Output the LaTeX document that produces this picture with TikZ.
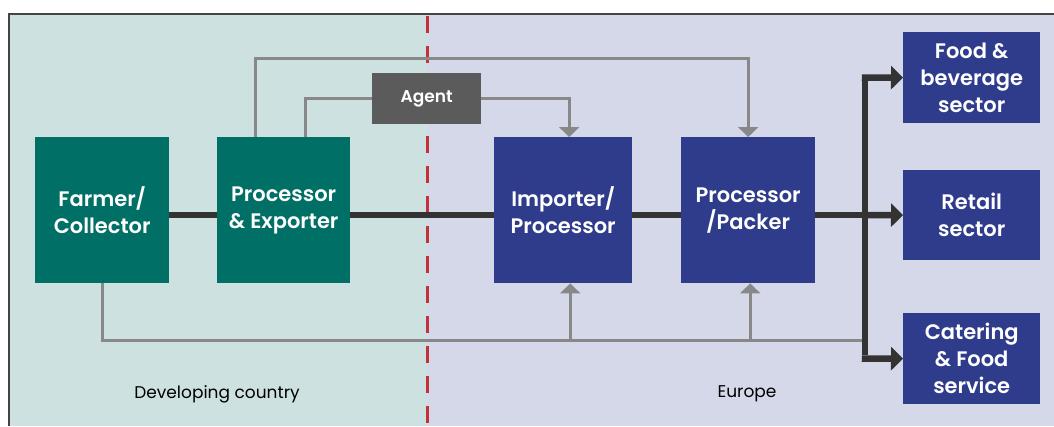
\documentclass[tikz,border=0pt]{standalone}
\usepackage{fontspec}
\setmainfont{Poppins}[BoldFont={* SemiBold}]
\usetikzlibrary{arrows.meta}
\definecolor{bggreen}{HTML}{CDE2E0}
\definecolor{bglav}{HTML}{D5D8E8}
\definecolor{teal}{HTML}{006F66}
\definecolor{navy}{HTML}{2F3C8C}
\definecolor{agentgrey}{HTML}{5B5B5B}
\definecolor{lgrey}{HTML}{888888}
\definecolor{dgrey}{HTML}{333333}
\definecolor{dred}{HTML}{C2323B}
\definecolor{frame}{HTML}{444444}
\begin{document}
\begin{tikzpicture}[x=1pt,y=-1pt,
  box/.style={draw=none,text=white,font=\bfseries\fontsize{21}{27}\selectfont,align=center,inner sep=0pt,anchor=north west},
  tealbox/.style={box,fill=teal},
  navybox/.style={box,fill=navy},
  greyline/.style={draw=lgrey,line width=3pt},
  greyarrow/.style={greyline,-{Triangle[width=20pt,length=10pt]}},
  darkline/.style={draw=dgrey,line width=6.5pt},
  darkarrow/.style={darkline,-{Triangle[width=23pt,length=12pt]}},
  lbl/.style={font=\fontsize{17}{20}\selectfont,text=black}
]
\useasboundingbox (0,0) rectangle (1054,426);
% backgrounds
\fill[white] (0,0) rectangle (1054,426);
\fill[bggreen] (9,14) rectangle (427,426);
\fill[bglav] (427,14) rectangle (1054,426);
\draw[frame,line width=1.2pt] (9,426) -- (9,14) -- (1054,14);
\draw[dred,line width=3pt,dash pattern=on 17pt off 13pt] (427,16) -- (427,426);

% nodes
\node[tealbox,minimum width=134pt,minimum height=146pt] (farmer) at (35,137) {Farmer/\\Collector};
\node[tealbox,minimum width=133pt,minimum height=146pt] (pe) at (217,137) {Processor\\\& Exporter};
\node[navybox,minimum width=138pt,minimum height=146pt] (imp) at (494,137) {Importer/\\Processor};
\node[navybox,minimum width=134pt,minimum height=146pt] (pp) at (681,137) {Processor\\/Packer};
\node[box,fill=agentgrey,minimum width=109pt,minimum height=51pt,font=\bfseries\fontsize{17}{20}\selectfont] (agent) at (372,73) {Agent};
\node[navybox,minimum width=137pt,minimum height=91pt] (food) at (903,32) {Food \&\\beverage\\sector};
\node[navybox,minimum width=137pt,minimum height=90pt] (retail) at (903,170) {Retail\\sector};
\node[navybox,minimum width=137pt,minimum height=91pt] (cater) at (903,313) {Catering\\\& Food\\service};

\node[lbl] (dev) at (217,394) {Developing country};
\node[lbl] (eur) at (747,394) {Europe};

% coordinates
\coordinate (mainy) at (0,215);
\coordinate (split) at (865,215);
\coordinate (vtop) at (865,77.5);
\coordinate (vbot) at (865,358.5);
\coordinate (gb) at (865,340);
\coordinate (peA) at ([xshift=38pt]pe.north west);
\coordinate (peB) at ([xshift=88pt]pe.north west);
\coordinate (impT) at ([xshift=6pt]imp.north);
\coordinate (impB) at ([xshift=7pt]imp.south);
\coordinate (ppB) at ([xshift=2pt]pp.south);

% grey connectors
\draw[greyarrow] (peA) -- ++(0,-79) -| (pp.north);
\draw[greyline] (peB) |- (agent.west);
\draw[greyarrow] (agent.east) -| (impT);
\draw[greyline] (farmer.south) |- (gb);
\draw[greyarrow] (impB |- gb) -- (impB);
\draw[greyarrow] (ppB |- gb) -- (ppB);

% main flow
\draw[darkline] (farmer.east |- mainy) -- (pe.west |- mainy);
\draw[darkline] (pe.east |- mainy) -- (imp.west |- mainy);
\draw[darkline] (imp.east |- mainy) -- (pp.west |- mainy);
\draw[darkline] (pp.east |- mainy) -- (split);
\draw[darkline] ([yshift=-3.25pt]vtop) -- ([yshift=3.25pt]vbot);
\draw[darkarrow] ([xshift=-3.25pt]vtop) -- (food.west);
\draw[darkarrow] (split) -- (retail.west);
\draw[darkarrow] ([xshift=-3.25pt]vbot) -- (cater.west);
\end{tikzpicture}
\end{document}
